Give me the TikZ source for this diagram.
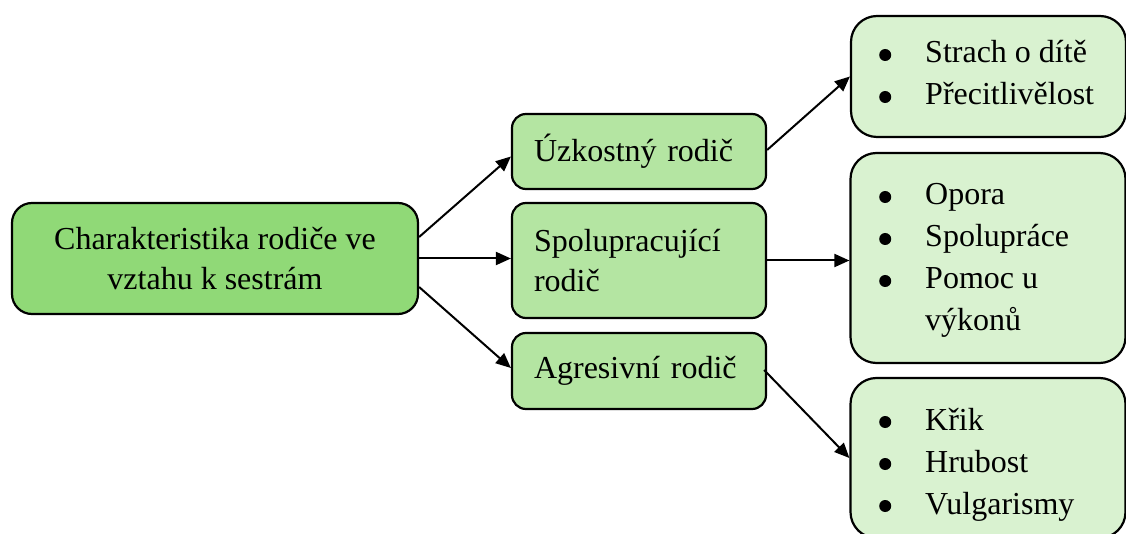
\documentclass[tikz,border=0pt]{standalone}
\usepackage{fontspec}
\setmainfont{Liberation Serif}
\usetikzlibrary{arrows.meta}
\definecolor{maingreen}{HTML}{90D977}
\definecolor{midgreen}{HTML}{B4E5A2}
\definecolor{lightgreen}{HTML}{D9F2D0}
\begin{document}
\begin{tikzpicture}[x=1pt,y=-1pt,
  box/.style={draw=black, line width=2.2pt, rectangle, inner sep=0pt},
  mainbox/.style={box, fill=maingreen, rounded corners=20pt, align=center,
    font=\fontsize{32}{40}\selectfont},
  midbox/.style={box, fill=midgreen, rounded corners=14pt, minimum width=254pt,
    inner xsep=22pt, text width=210pt, align=left,
    font=\fontsize{32}{40}\selectfont},
  listbox/.style={box, fill=lightgreen, rounded corners=26pt, minimum width=275pt},
  listtext/.style={anchor=base west, inner sep=0pt, font=\fontsize{32}{42}\selectfont},
  conn/.style={line width=2pt, -{Triangle[length=15pt,width=13pt]}}]
\useasboundingbox (0,0) rectangle (1126,534);
\begin{scope}
\clip (0,0) rectangle (1126,534);

% root
\node[mainbox, minimum width=406pt, minimum height=111pt] (main) at (215,258.5)
  {Charakteristika rodiče ve\\vztahu k sestrám};

% parent types
\node[midbox, minimum height=75pt] (uz) at (639,151.5) {Úzkostný rodič};
\node[midbox, minimum height=115pt] (sp) at (639,260.5) {Spolupracující\\rodič};
\node[midbox, minimum height=76pt] (ag) at (639,371) {Agresivní rodič};

% characteristic lists
\node[listbox, minimum height=121pt] (l1) at (988.5,76.5) {};
\node[listbox, minimum height=210pt] (l2) at (988,258) {};
\node[listbox, minimum height=160pt] (l3) at (988,458) {};

% round bullet followed by the gap before the item text
\newcommand{\blt}{\makebox[47pt][l]{\hspace{1pt}\tikz[x=1pt,y=1pt,baseline=0pt]\fill (6.5,8) circle (6pt);}}
\node[listtext] (t1) at (878,63) {\begin{tabular}[t]{@{}l@{}l@{}}
  \blt & Strach o dítě\\ \blt & Přecitlivělost\end{tabular}};
\node[listtext] (t2) at (878,205) {\begin{tabular}[t]{@{}l@{}l@{}}
  \blt & Opora\\ \blt & Spolupráce\\ \blt & Pomoc u\\ & výkonů\end{tabular}};
\node[listtext] (t3) at (878,430) {\begin{tabular}[t]{@{}l@{}l@{}}
  \blt & Křik\\ \blt & Hrubost\\ \blt & Vulgarismy\end{tabular}};

% connectors
\draw[conn] ([yshift=21.5pt]main.east) -- ([yshift=-5pt]uz.west);
\draw[conn] (main.east) -- (main.east -| sp.west);
\draw[conn] ([yshift=-28.5pt]main.east) -- ([yshift=3pt]ag.west);
\draw[conn] ([yshift=1.5pt]uz.east) -- (l1.west);
\draw[conn] (sp.east) -- (sp.east -| l2.west);
\draw[conn] ([xshift=-3pt,yshift=1pt]ag.east) -- (l3.west);
\end{scope}
\end{tikzpicture}
\end{document}
